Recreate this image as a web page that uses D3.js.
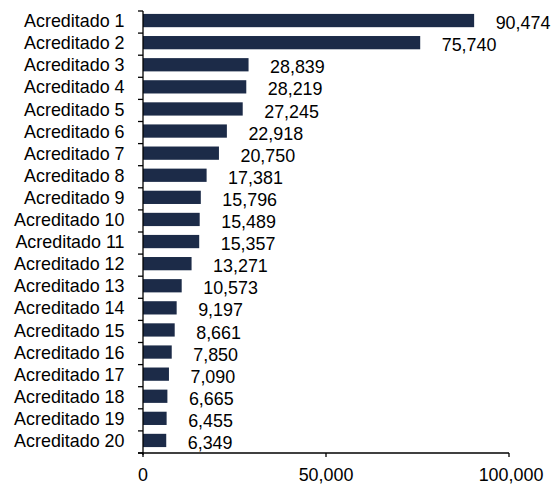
<!DOCTYPE html>
<html><head><meta charset="utf-8">
<script src="https://cdn.jsdelivr.net/npm/d3@7"></script>
<style>body{margin:0;background:#fff}svg{display:block}</style>
</head><body>
<script>
const categories = ["Acreditado 1","Acreditado 2","Acreditado 3","Acreditado 4","Acreditado 5","Acreditado 6","Acreditado 7","Acreditado 8","Acreditado 9","Acreditado 10","Acreditado 11","Acreditado 12","Acreditado 13","Acreditado 14","Acreditado 15","Acreditado 16","Acreditado 17","Acreditado 18","Acreditado 19","Acreditado 20"];
const values = [90474,75740,28839,28219,27245,22918,20750,17381,15796,15489,15357,13271,10573,9197,8661,7850,7090,6665,6455,6349];
const xTicks = [0,50000,100000];

const W=553,H=485;
const mL=143,mR=509,mT=11,mB=453;
const svg=d3.select("body").append("svg").attr("width",W).attr("height",H)
  .style("font-family","'Liberation Sans',Arial,sans-serif");
const x=d3.scaleLinear().domain([0,100000]).range([mL,mR]);
const y=d3.scaleBand().domain(categories).range([mT,mB]).paddingInner(0.4).paddingOuter(0.2);
const fmt=d3.format(",");
const fs="17.9px";

svg.append("g").selectAll("rect").data(values).join("rect")
  .attr("x",x(0)).attr("y",(d,i)=>y(categories[i])-1.5)
  .attr("width",d=>x(d)-x(0)).attr("height",y.bandwidth())
  .attr("fill","#1c2b48");

svg.append("g").selectAll("text").data(values).join("text")
  .attr("x",d=>x(d)+21.5).attr("y",(d,i)=>y(categories[i])-1.5+y.bandwidth()+2)
  .attr("font-size",fs).attr("fill","#000").text(d=>fmt(d));

// y axis
const yAxis=svg.append("g");
yAxis.append("line").attr("x1",mL).attr("x2",mL).attr("y1",mT).attr("y2",mB+2).attr("stroke","#000").attr("stroke-width",1.3);
const bounds=d3.range(categories.length+1).map(i=>mT+i*(mB-mT)/categories.length);
yAxis.selectAll("line.t").data(bounds).join("line").attr("class","t")
  .attr("x1",mL-5).attr("x2",mL).attr("y1",d=>d).attr("y2",d=>d).attr("stroke","#000").attr("stroke-width",1.3);
yAxis.selectAll("text").data(categories).join("text")
  .attr("x",mL-18.5).attr("y",d=>y(d)-1.5+y.bandwidth())
  .attr("text-anchor","end").attr("font-size",fs).attr("fill","#000").text(d=>d);

// x axis
const xAxis=svg.append("g");
xAxis.append("line").attr("x1",mL-5).attr("x2",mR).attr("y1",mB).attr("y2",mB).attr("stroke","#000").attr("stroke-width",1.3);
xAxis.selectAll("line.t").data(xTicks).join("line").attr("class","t")
  .attr("x1",d=>x(d)).attr("x2",d=>x(d)).attr("y1",mB).attr("y2",mB+4).attr("stroke","#000").attr("stroke-width",1.3);
xAxis.selectAll("text").data(xTicks).join("text")
  .attr("x",d=>x(d)+(d===100000?2:0)).attr("y",481).attr("text-anchor","middle")
  .attr("font-size",fs).attr("fill","#000").text(d=>fmt(d));
</script>
</body></html>
